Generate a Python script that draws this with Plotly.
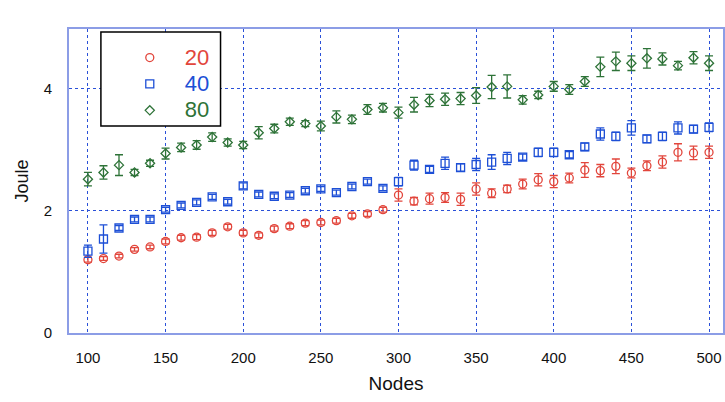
import plotly.graph_objects as go

# Network size (number of nodes)
nodes = list(range(100, 501, 10))

# Mean energy (Joule) for each setting, with error-bar half widths
joule_20 = [1.20, 1.22, 1.26, 1.37, 1.41, 1.50, 1.56, 1.57, 1.64, 1.74,
            1.64, 1.60, 1.71, 1.75, 1.80, 1.81, 1.84, 1.92, 1.95, 2.02,
            2.26, 2.16, 2.20, 2.22, 2.19, 2.36, 2.29, 2.36, 2.44, 2.51,
            2.48, 2.54, 2.67, 2.66, 2.73, 2.62, 2.74, 2.80, 2.96, 2.95, 2.96]
err_20 = [0.04, 0.03, 0.03, 0.03, 0.03, 0.04, 0.04, 0.04, 0.04, 0.04,
          0.04, 0.04, 0.04, 0.04, 0.04, 0.04, 0.04, 0.04, 0.04, 0.04,
          0.10, 0.06, 0.09, 0.08, 0.10, 0.10, 0.07, 0.06, 0.08, 0.10,
          0.10, 0.08, 0.12, 0.10, 0.12, 0.08, 0.08, 0.10, 0.14, 0.11, 0.10]

joule_40 = [1.34, 1.54, 1.72, 1.86, 1.86, 2.02, 2.09, 2.14, 2.23, 2.15,
            2.41, 2.27, 2.24, 2.26, 2.33, 2.36, 2.30, 2.40, 2.48, 2.37,
            2.48, 2.75, 2.68, 2.78, 2.71, 2.76, 2.80, 2.86, 2.88, 2.96,
            2.96, 2.92, 3.05, 3.26, 3.22, 3.36, 3.18, 3.22, 3.36, 3.34, 3.37]
err_40 = [0.10, 0.23, 0.04, 0.04, 0.04, 0.04, 0.04, 0.04, 0.04, 0.04,
          0.05, 0.04, 0.04, 0.04, 0.04, 0.04, 0.04, 0.04, 0.04, 0.04,
          0.07, 0.08, 0.05, 0.10, 0.06, 0.10, 0.12, 0.10, 0.05, 0.07,
          0.07, 0.05, 0.06, 0.10, 0.07, 0.12, 0.06, 0.07, 0.10, 0.06, 0.07]

joule_80 = [2.52, 2.63, 2.75, 2.63, 2.78, 2.94, 3.04, 3.08, 3.21, 3.12,
            3.08, 3.28, 3.35, 3.46, 3.43, 3.39, 3.54, 3.50, 3.66, 3.69,
            3.61, 3.74, 3.81, 3.83, 3.84, 3.89, 4.03, 4.04, 3.82, 3.90,
            4.04, 3.99, 4.12, 4.36, 4.45, 4.42, 4.50, 4.49, 4.38, 4.51, 4.42]
err_80 = [0.11, 0.11, 0.17, 0.05, 0.05, 0.09, 0.07, 0.07, 0.07, 0.06,
          0.06, 0.10, 0.07, 0.06, 0.05, 0.08, 0.10, 0.07, 0.08, 0.07,
          0.09, 0.12, 0.10, 0.10, 0.10, 0.13, 0.19, 0.19, 0.07, 0.06,
          0.08, 0.08, 0.08, 0.16, 0.15, 0.12, 0.16, 0.10, 0.07, 0.10, 0.12]

series = [
    ("20", joule_20, err_20, "circle-open", 8, "#e2463c"),
    ("40", joule_40, err_40, "square-open", 8, "#1d4fd6"),
    ("80", joule_80, err_80, "diamond-open", 7, "#2e7338"),
]

fig = go.Figure()
for name, vals, errs, symbol, size, color in series:
    fig.add_trace(go.Scatter(
        x=nodes, y=vals, mode="markers",
        name=f'<span style="color:{color};font-size:22px">{name}</span>',
        marker=dict(symbol=symbol, size=size, color=color,
                    line=dict(color=color, width=1.3)),
        error_y=dict(type="data", array=errs, visible=True,
                     color=color, thickness=1.3, width=4),
    ))

grid_color = "#2a50d8"
border_color = "#8c9de6"

fig.update_layout(
    width=725, height=402,
    margin=dict(l=69, r=0, t=29, b=69),
    paper_bgcolor="white", plot_bgcolor="white",
    font=dict(family="Liberation Sans, Arial, sans-serif", color="#111"),
    showlegend=True,
    legend=dict(
        x=0.07, y=0.966, xanchor="left", yanchor="top",
        bgcolor="rgba(0,0,0,0)", borderwidth=0,
        font=dict(size=18), itemwidth=60, tracegroupgap=0,
    ),
    shapes=[dict(type="rect", xref="paper", yref="paper",
                 x0=(101 - 69) / 656, x1=(221 - 69) / 656,
                 y0=(333 - 126) / 304, y1=(333 - 32) / 304,
                 line=dict(color="black", width=1.5), fillcolor="white",
                 layer="above")],
    xaxis=dict(
        range=[87.8, 509], tickvals=list(range(100, 501, 50)),
        showgrid=True, gridcolor=grid_color, griddash="dot", gridwidth=1,
        showline=True, linecolor=border_color, linewidth=2, mirror=True,
        zeroline=False, ticks="", ticklabelstandoff=10,
        tickfont=dict(size=15, color="#111"),
        title=dict(text="Nodes", font=dict(size=19), standoff=12),
    ),
    yaxis=dict(
        range=[0, 4.98], tickvals=[0, 2, 4],
        showgrid=True, gridcolor=grid_color, griddash="dot", gridwidth=1,
        showline=True, linecolor=border_color, linewidth=2, mirror=True,
        zeroline=False, ticks="", ticklabelstandoff=12,
        tickfont=dict(size=15, color="#111"),
        title=dict(text="Joule", font=dict(size=18), standoff=10),
    ),
)

fig.write_html("out.html")
